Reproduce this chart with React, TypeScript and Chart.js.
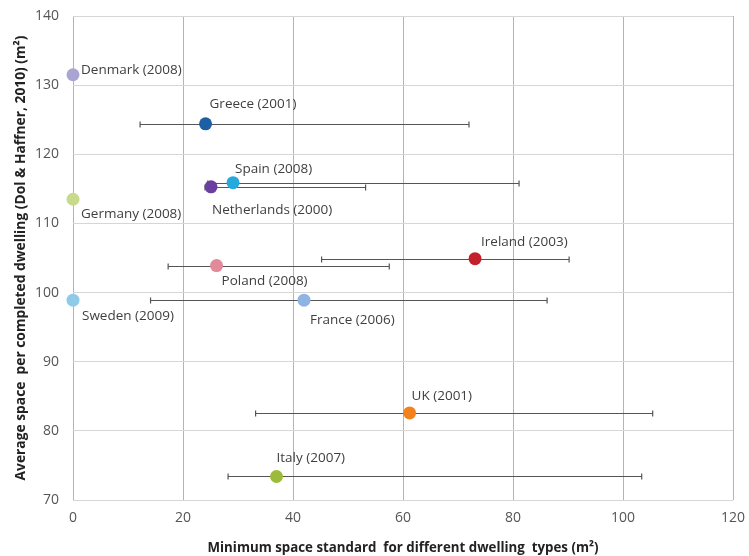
import React, { useEffect, useRef } from "react";
import { Chart, registerables } from "chart.js";

Chart.register(...registerables);

const countries = ["Denmark", "Greece", "Spain", "Netherlands", "Germany", "Ireland", "Poland", "Sweden", "France", "UK", "Italy"];
const years = ["2008", "2001", "2008", "2000", "2008", "2003", "2008", "2009", "2006", "2001", "2007"];
const minStandard = [0, 24.1, 29.1, 25.1, 0, 73.1, 26.1, 0, 42, 61.2, 37];
const avgSpace = [131.5, 124.4, 115.9, 115.3, 113.5, 104.9, 103.9, 98.9, 98.9, 82.6, 73.4];
const rangeLow: (number | null)[] = [null, 12.2, 24.5, 24.0, null, 45.2, 17.3, null, 14.1, 33.2, 28.2];
const rangeHigh: (number | null)[] = [null, 72, 81.1, 53.2, null, 90.2, 57.5, null, 86.2, 105.4, 103.4];
const pointColors = ["#a9a5d2", "#1d5fa3", "#26a9dc", "#6b3fa0", "#c9da8c", "#c4202b", "#e2899a", "#8fcbe9", "#8fb3e3", "#f3821d", "#9cbb3a"];
// label placement offsets (px) relative to point
const labelOffsets = [[8, -5], [4, -20], [2, -13], [1, 23], [8, 15], [6, -17], [5, 16], [9, 16], [6, 20], [2, -17], [0, -18]];

const FONT = "'Open Sans', 'Liberation Sans', sans-serif";

const errorBarPlugin = {
  id: "errorBars",
  beforeDatasetsDraw(chart: any) {
    const { ctx, scales } = chart;
    const xs = scales.x, ys = scales.y;
    ctx.save();
    ctx.strokeStyle = "#555555";
    ctx.lineWidth = 1.2;
    for (let i = 0; i < avgSpace.length; i++) {
      const lo = rangeLow[i], hi = rangeHigh[i];
      if (lo == null || hi == null) continue;
      const y = Math.round(ys.getPixelForValue(avgSpace[i])) + 0.5;
      const x1 = xs.getPixelForValue(lo), x2 = xs.getPixelForValue(hi);
      ctx.beginPath();
      ctx.moveTo(x1, y); ctx.lineTo(x2, y);
      ctx.moveTo(x1, y - 3); ctx.lineTo(x1, y + 3);
      ctx.moveTo(x2, y - 3); ctx.lineTo(x2, y + 3);
      ctx.stroke();
    }
    ctx.restore();
  },
  afterDatasetsDraw(chart: any) {
    const { ctx, scales } = chart;
    const xs = scales.x, ys = scales.y;
    ctx.save();
    ctx.font = `13.5px ${FONT}`;
    ctx.fillStyle = "#3f3f3f";
    ctx.textAlign = "left";
    ctx.textBaseline = "middle";
    for (let i = 0; i < avgSpace.length; i++) {
      const px = xs.getPixelForValue(minStandard[i]);
      const py = ys.getPixelForValue(avgSpace[i]);
      ctx.fillText(`${countries[i]} (${years[i]})`, px + labelOffsets[i][0], py + labelOffsets[i][1]);
    }
    ctx.restore();
  },
};

export default function App() {
  const ref = useRef<HTMLCanvasElement>(null);
  useEffect(() => {
    if (!ref.current) return;
    const chart = new Chart(ref.current, {
      type: "scatter",
      data: {
        datasets: [
          {
            data: minStandard.map((x, i) => ({ x, y: avgSpace[i] })),
            backgroundColor: pointColors,
            borderColor: pointColors,
            pointRadius: 6.5,
            pointBorderWidth: 0,
            clip: false,
          },
        ],
      },
      options: {
        animation: false,
        responsive: false,
        layout: { padding: { left: 0, top: 16, right: 16, bottom: 0 } },
        plugins: { legend: { display: false }, tooltip: { enabled: false } },
        scales: {
          x: {
            type: "linear",
            min: 0,
            max: 120,
            ticks: { stepSize: 20, color: "#555555", font: { family: FONT, size: 14 }, padding: 10 },
            grid: { color: "#b4b4b4", drawTicks: false },
            border: { display: false },
            title: {
              display: true,
              text: "Minimum space standard  for different dwelling  types (m²)",
              color: "#222",
              font: { family: FONT, size: 13.3, weight: "bold" },
              padding: { top: 4, bottom: 0 },
            },
            afterFit(scale: any) { scale.height = 56; scale.paddingLeft = 0; scale.paddingRight = 0; },
          },
          y: {
            type: "linear",
            min: 70,
            max: 140,
            ticks: { stepSize: 10, color: "#555555", font: { family: FONT, size: 14 }, padding: 14 },
            grid: { color: "#d6d6d6", drawTicks: false },
            border: { display: false },
            title: {
              display: true,
              text: "Average space  per completed dwelling (Dol & Haffner, 2010) (m²)",
              color: "#222",
              font: { family: FONT, size: 13.8, weight: "bold" },
              padding: { top: 13, bottom: 0 },
            },
            afterFit(scale: any) { scale.width = 73; scale.paddingTop = 0; scale.paddingBottom = 0; },
          },
        },
      },
      plugins: [errorBarPlugin],
    } as any);
    return () => chart.destroy();
  }, []);
  return (
    <div style={{ position: "fixed", left: 0, top: 0, width: 749, height: 556, background: "#fff" }}>
      <canvas ref={ref} width={749} height={556} />
    </div>
  );
}
